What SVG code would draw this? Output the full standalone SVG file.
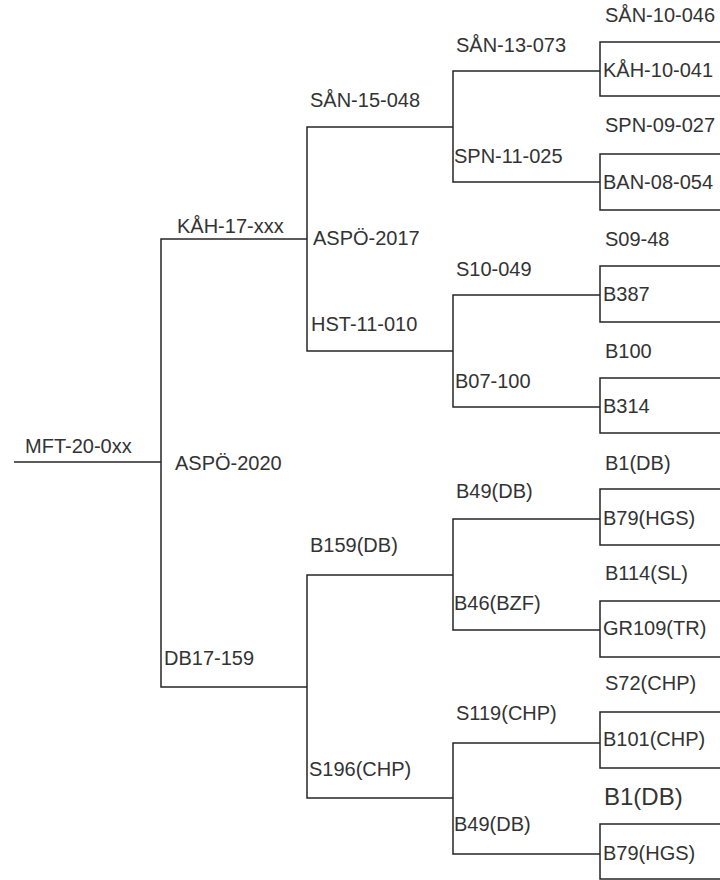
<svg xmlns="http://www.w3.org/2000/svg" width="720" height="880" viewBox="0 0 720 880">
<style>
  text { font-family: "Liberation Sans", Arial, sans-serif; font-size: 20px; fill: #333; }
  .big { font-size: 24px; }
  .ln { fill: none; stroke: #262626; stroke-width: 1.5; }
</style>
<rect width="720" height="880" fill="#fff"/>
<g id="connectors" class="ln">
  <path class="ln" d="M14 462 H161"/>
  <path class="ln" d="M307 239 H161 V687 H307"/>
  <path class="ln" d="M453 127 H307 V351 H453"/>
  <path class="ln" d="M453 575 H307 V798 H453"/>
  <path class="ln" d="M600 71 H453 V182 H600"/>
  <path class="ln" d="M600 295 H453 V407 H600"/>
  <path class="ln" d="M600 519 H453 V630 H600"/>
  <path class="ln" d="M600 743 H453 V854 H600"/>
</g>
<g id="n-MFT-20-0xx"><text x="25" y="453">MFT-20-0xx</text></g>
<g id="n-KAH-17-xxx"><text x="177" y="233">KÅH-17-xxx</text></g>
<g id="n-ASPO-2020"><text x="175" y="470">ASPÖ-2020</text></g>
<g id="n-DB17-159"><text x="164" y="665">DB17-159</text></g>
<g id="n-SAN-15-048"><text x="310" y="107">SÅN-15-048</text></g>
<g id="n-ASPO-2017"><text x="313" y="245">ASPÖ-2017</text></g>
<g id="n-HST-11-010"><text x="311" y="331">HST-11-010</text></g>
<g id="n-B159DB"><text x="310" y="552">B159(DB)</text></g>
<g id="n-S196CHP"><text x="309" y="776">S196(CHP)</text></g>
<g id="n-SAN-13-073"><text x="456" y="52">SÅN-13-073</text></g>
<g id="n-SPN-11-025"><text x="454" y="163">SPN-11-025</text></g>
<g id="n-S10-049"><text x="456" y="276">S10-049</text></g>
<g id="n-B07-100"><text x="455" y="388">B07-100</text></g>
<g id="n-B49DB-a"><text x="456" y="498">B49(DB)</text></g>
<g id="n-B46BZF"><text x="454" y="610">B46(BZF)</text></g>
<g id="n-S119CHP"><text x="456" y="720">S119(CHP)</text></g>
<g id="n-B49DB-b"><text x="454" y="831">B49(DB)</text></g>
<g id="pair1">
  <path class="ln" d="M720 42 H600 V96 H720"/>
  <text x="605" y="22">SÅN-10-046</text>
  <text x="603" y="77">KÅH-10-041</text>
</g>
<g id="pair2">
  <path class="ln" d="M720 154 H600 V210 H720"/>
  <text x="605" y="132">SPN-09-027</text>
  <text x="603" y="189">BAN-08-054</text>
</g>
<g id="pair3">
  <path class="ln" d="M720 266 H600 V322 H720"/>
  <text x="605" y="246">S09-48</text>
  <text x="603" y="301">B387</text>
</g>
<g id="pair4">
  <path class="ln" d="M720 378 H600 V433 H720"/>
  <text x="605" y="358">B100</text>
  <text x="603" y="413">B314</text>
</g>
<g id="pair5">
  <path class="ln" d="M720 489 H600 V545 H720"/>
  <text x="605" y="470">B1(DB)</text>
  <text x="603" y="525">B79(HGS)</text>
</g>
<g id="pair6">
  <path class="ln" d="M720 601 H600 V657 H720"/>
  <text x="605" y="580">B114(SL)</text>
  <text x="603" y="635">GR109(TR)</text>
</g>
<g id="pair7">
  <path class="ln" d="M720 712 H600 V768 H720"/>
  <text x="605" y="690">S72(CHP)</text>
  <text x="603" y="746">B101(CHP)</text>
</g>
<g id="pair8">
  <path class="ln" d="M720 824 H600 V879 H720"/>
  <text class="big" x="604" y="805">B1(DB)</text>
  <text x="603" y="860">B79(HGS)</text>
</g>
</svg>
